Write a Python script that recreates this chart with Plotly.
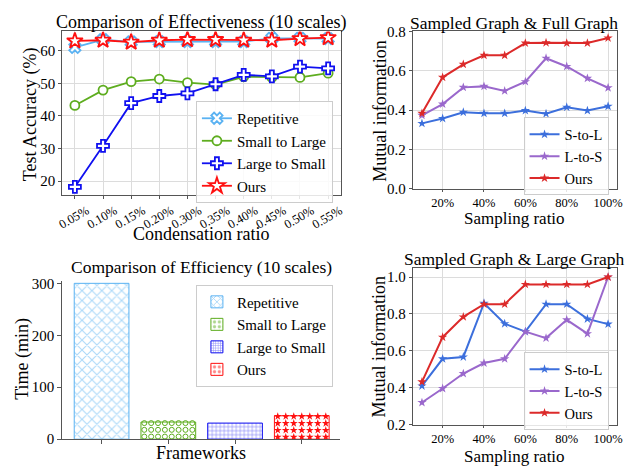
import numpy as np
import plotly.graph_objects as go

# ---------------- data ----------------
cond_ratios = ["0.05%", "0.10%", "0.15%", "0.20%", "0.30%", "0.35%", "0.40%", "0.45%", "0.50%", "0.55%"]
acc_repetitive = [61.0, 63.4, 62.7, 62.8, 62.8, 62.8, 62.8, 63.8, 63.8, 63.7]
acc_small_to_large = [43.2, 47.9, 50.5, 51.3, 50.2, 49.6, 52.0, 51.8, 51.8, 53.1]
acc_large_to_small = [18.2, 30.8, 43.9, 46.1, 46.9, 49.7, 52.6, 52.1, 55.1, 54.6]
acc_ours = [63.0, 63.2, 62.6, 63.2, 63.4, 63.4, 63.2, 63.2, 63.7, 64.0]

sampling_ratio = [10, 20, 30, 40, 50, 60, 70, 80, 90, 100]
full_s_to_l = [0.333, 0.358, 0.390, 0.384, 0.384, 0.398, 0.382, 0.415, 0.398, 0.420]
full_l_to_s = [0.374, 0.431, 0.516, 0.521, 0.498, 0.545, 0.664, 0.622, 0.562, 0.514]
full_ours = [0.384, 0.567, 0.633, 0.679, 0.679, 0.741, 0.743, 0.741, 0.741, 0.767]

large_s_to_l = [0.41, 0.557, 0.567, 0.858, 0.747, 0.704, 0.853, 0.853, 0.773, 0.745]
large_l_to_s = [0.32, 0.396, 0.477, 0.534, 0.557, 0.704, 0.669, 0.768, 0.693, 1.0]
large_ours = [0.432, 0.674, 0.784, 0.853, 0.853, 0.96, 0.96, 0.96, 0.96, 1.0]

frameworks = ["Repetitive", "Small to Large", "Large to Small", "Ours"]
time_min = [300, 33, 31, 45]

# ---------------- style ----------------
FONT = "Liberation Serif"
C_REP = "#5AB2F2"
C_S2L = "#5EAD1F"
C_L2S = "#1010F0"
C_OURS = "#FF1010"
R_S2L = "#3C6FDC"
R_L2S = "#9A68CC"
R_OURS = "#DC2A2A"
W, H = 639, 473
OX, OY = 8, 8   # page body margin compensation


def px(x):
    return (x - OX) / W


def py(y):
    return 1 - (y - OY) / H


fig = go.Figure()

# ---------------- top-left: effectiveness ----------------
xi = list(range(len(cond_ratios)))
for name, ys, col, sym, sz in [
    ("Repetitive", acc_repetitive, C_REP, "x", 10),
    ("Small to Large", acc_small_to_large, C_S2L, "circle", 9),
    ("Large to Small", acc_large_to_small, C_L2S, "cross", 10),
    ("Ours", acc_ours, C_OURS, "star", 12),
]:
    fig.add_trace(go.Scatter(
        x=xi, y=ys, name=name, mode="lines+markers",
        line=dict(color=col, width=1.8),
        marker=dict(symbol=sym, size=sz, color="white", line=dict(color=col, width=1.8)),
        xaxis="x", yaxis="y", legend="legend",
    ))

# ---------------- top-right ----------------
for name, ys, col in [("S-to-L", full_s_to_l, R_S2L), ("L-to-S", full_l_to_s, R_L2S), ("Ours", full_ours, R_OURS)]:
    fig.add_trace(go.Scatter(
        x=sampling_ratio, y=ys, name=name, mode="lines+markers",
        line=dict(color=col, width=2),
        marker=dict(symbol="star", size=7, color=col, line=dict(width=0)),
        xaxis="x2", yaxis="y2", legend="legend2",
    ))

# ---------------- bottom-right ----------------
for name, ys, col in [("S-to-L", large_s_to_l, R_S2L), ("L-to-S", large_l_to_s, R_L2S), ("Ours", large_ours, R_OURS)]:
    fig.add_trace(go.Scatter(
        x=sampling_ratio, y=ys, name=name, mode="lines+markers",
        line=dict(color=col, width=2),
        marker=dict(symbol="star", size=7, color=col, line=dict(width=0)),
        xaxis="x4", yaxis="y4", legend="legend4",
    ))

# ---------------- bottom-left: efficiency bars ----------------
BW = 0.82
bar_cols = [C_REP, C_S2L, C_L2S, C_OURS]
bar_patterns = ["x", "", "+", ""]
bar_sizes = [7, 8, 4, 8]
for i, (name, val, col, pat, psz) in enumerate(zip(frameworks, time_min, bar_cols, bar_patterns, bar_sizes)):
    fig.add_trace(go.Bar(
        x=[i], y=[val], width=BW, name=name, showlegend=False,
        marker=dict(color="white", line=dict(color=col, width=1),
                    pattern=dict(shape=pat, fgcolor=col, bgcolor="white", size=psz, solidity=0.3)),
        xaxis="x3", yaxis="y3",
    ))


# hatch-like marks (open circles / stars) inside the two short bars
def fill_marks(idx, val, ncol, row_start, row_step, symbol, size, col, lw):
    half = BW / 2 - 0.05
    cols = np.linspace(idx - half, idx + half, ncol)
    rows = np.arange(row_start, val, row_step)
    gx, gy = np.meshgrid(cols, rows)
    fig.add_trace(go.Scatter(
        x=gx.ravel(), y=gy.ravel(), mode="markers", showlegend=False, hoverinfo="skip",
        marker=dict(symbol=symbol, size=size, color=col, line=dict(color=col, width=lw)),
        xaxis="x3", yaxis="y3",
    ))


fill_marks(1, time_min[1], 8, 5, 13, "circle-open", 5, C_S2L, 1)
fill_marks(3, time_min[3], 7, 4, 13.3, "star", 6, C_OURS, 0)

# legend-only entries for the bars
for name, col, pat, psz in zip(frameworks, bar_cols, ["x", ".", "+", "."], [6, 6, 3, 6]):
    fig.add_trace(go.Bar(
        x=[None], y=[None], name=name,
        marker=dict(color="white", line=dict(color=col, width=1),
                    pattern=dict(shape=pat, fgcolor=col, bgcolor="white", size=psz, solidity=0.35)),
        xaxis="x3", yaxis="y3", legend="legend3",
    ))

# ---------------- axes ----------------
grid = "#dcdcdc"
frame = "#555555"
tickf = dict(family=FONT, size=15, color="black")
common = dict(showline=True, linecolor=frame, linewidth=1, mirror=True, gridcolor=grid,
              gridwidth=1, zeroline=False, ticks="outside", ticklen=3, tickcolor=frame, tickfont=tickf)

dom_tl_x = [px(58), px(341)]
dom_tl_y = [py(193), py(24)]
dom_tr_x = [px(414), px(622)]
dom_tr_y = [py(187), py(24)]
dom_bl_x = [px(58), px(340)]
dom_bl_y = [py(446), py(282)]
dom_br_x = [px(414), px(622)]
dom_br_y = [py(431), py(269)]

pct_ticks = [20, 40, 60, 80, 100]

fig.update_layout(
    width=W, height=H, margin=dict(l=0, r=0, t=0, b=0),
    paper_bgcolor="white", plot_bgcolor="white",
    font=dict(family=FONT, color="black"),
    barmode="overlay",
    xaxis=dict(domain=dom_tl_x, anchor="y", range=[-0.45, 9.45], tickvals=xi, ticktext=cond_ratios,
               tickangle=-30, ticklabelshift=12,
               **{**common, "tickfont": dict(family=FONT, size=12.5, color="black")}),
    yaxis=dict(domain=dom_tl_y, anchor="x", range=[15.8, 65.9], tickvals=[20, 30, 40, 50, 60], **common),
    xaxis2=dict(domain=dom_tr_x, anchor="y2", range=[5.5, 104.5], tickvals=pct_ticks,
                ticktext=[f"{v}%" for v in pct_ticks],
                **{**common, "ticklen": 2, "tickfont": dict(family=FONT, size=12.5, color="black")}),
    yaxis2=dict(domain=dom_tr_y, anchor="x2", range=[0, 0.8], tickvals=[0, 0.2, 0.4, 0.6, 0.8],
                tickformat=".1f", **common),
    xaxis3=dict(domain=dom_bl_x, anchor="y3", range=[-0.59, 3.57], tickvals=[0, 1, 2, 3],
                showticklabels=False, showline=True, linecolor=frame, linewidth=1, showgrid=False,
                zeroline=False, ticks="outside", ticklen=4, tickcolor=frame),
    yaxis3=dict(domain=dom_bl_y, anchor="x3", range=[0, 305], tickvals=[0, 100, 200, 300],
                showline=True, linecolor=frame, linewidth=1, showgrid=False, zeroline=False,
                ticks="outside", ticklen=4, tickcolor=frame, tickfont=tickf),
    xaxis4=dict(domain=dom_br_x, anchor="y4", range=[5.5, 104.5], tickvals=pct_ticks,
                ticktext=[f"{v}%" for v in pct_ticks],
                **{**common, "ticklen": 2, "tickfont": dict(family=FONT, size=12.5, color="black")}),
    yaxis4=dict(domain=dom_br_y, anchor="x4", range=[0.2, 1.048], tickvals=[0.2, 0.4, 0.6, 0.8, 1.0],
                tickformat=".1f", **common),
)

leg_common = dict(bgcolor="rgba(255,255,255,0.85)", bordercolor="#cccccc", borderwidth=1,
                  xanchor="right", yanchor="top", tracegroupgap=0)
fig.update_layout(
    legend=dict(x=px(333), y=py(96), font=dict(family=FONT, size=15), **leg_common),
    legend2=dict(x=px(613), y=py(113), font=dict(family=FONT, size=14.5), **leg_common),
    legend3=dict(x=px(333), y=py(286), font=dict(family=FONT, size=15), **leg_common),
    legend4=dict(x=px(613), y=py(356), font=dict(family=FONT, size=14.5), **leg_common),
)


# ---------------- titles & axis labels ----------------
def label(text, x, y, size, angle=0):
    fig.add_annotation(text=text, x=px(x), y=py(y), xref="paper", yref="paper",
                       showarrow=False, textangle=angle, xanchor="center", yanchor="middle",
                       font=dict(family=FONT, size=size, color="black"))


label("Comparison of Effectiveness (10 scales)", 199, 15, 18)
label("Sampled Graph & Full Graph", 517, 15, 17.5)
label("Comparison of Efficiency (10 scales)", 199, 268, 17.5)
label("Sampled Graph & Large Graph", 517, 260, 17.5)

label("Test Accuracy (%)", 26, 110, 18, -90)
label("Condensation ratio", 199, 234, 18)
label("Mutual information", 380, 107, 18, -90)
label("Sampling ratio", 517, 218, 17)
label("Time (min)", 18, 363, 18, -90)
label("Frameworks", 199, 460, 18)
label("Mutual information", 380, 351, 18, -90)
label("Sampling ratio", 517, 464, 17)

fig.write_html("out.html")
